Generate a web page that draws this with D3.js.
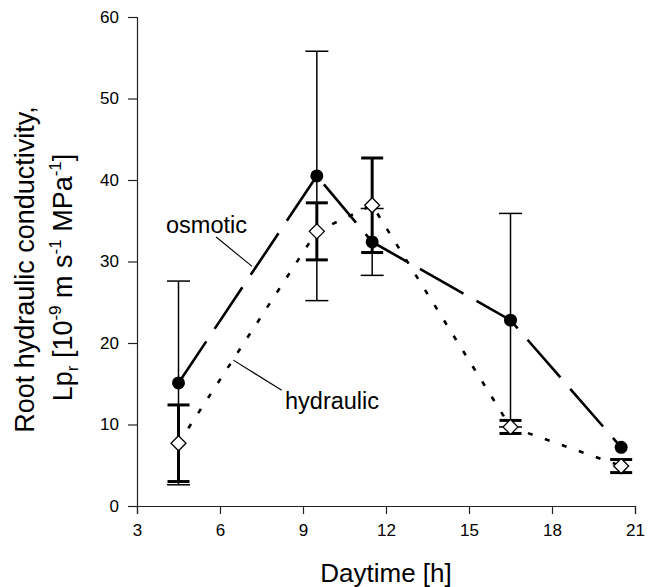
<!DOCTYPE html>
<html>
<head>
<meta charset="utf-8">
<script src="https://cdn.jsdelivr.net/npm/d3@7"></script>
<style>
  body { margin: 0; background: #fff; }
  text { font-family: "Liberation Sans", Arial, sans-serif; fill: #000; }
</style>
</head>
<body>
<script>
// values
var hours = [4.5, 9.5, 11.5, 16.5, 20.5];
var osmotic = [15.1, 40.5, 32.4, 22.8, 7.2];
var osmoticErr = [12.5, 15.3, 4.1, 13.1, 0];
var hydraulic = [7.7, 33.7, 36.9, 9.7, 4.9];
var hydraulicErr = [4.7, 3.5, 5.8, 0.8, 0.8];
var xTicks = [3, 6, 9, 12, 15, 18, 21];
var yTicks = [0, 10, 20, 30, 40, 50, 60];

var width = 653, height = 587;

var svg = d3.select('body').append('svg')
    .attr('width', width).attr('height', height);

var x = d3.scaleLinear().domain([3, 21]).range([137, 635]);
var y = d3.scaleLinear().domain([0, 60]).range([506, 17]);

// axes
svg.append('g')
    .attr('transform', 'translate(0,' + y(0) + ')')
    .call(d3.axisBottom(x).tickValues(xTicks).tickSize(8).tickPadding(10))
    .call(function (g) {
        g.selectAll('text').style('font-size', '17px');
    });

svg.append('g')
    .attr('transform', 'translate(' + x(3) + ',0)')
    .call(d3.axisLeft(y).tickValues(yTicks).tickSize(9).tickPadding(9))
    .call(function (g) {
        g.selectAll('text').style('font-size', '17px');
    });

svg.selectAll('.domain, .tick line').attr('stroke', '#222').attr('stroke-width', 1.2);
svg.selectAll('.tick text').attr('font-family', '"Liberation Sans", Arial, sans-serif');

// axis titles
svg.append('text')
    .attr('x', (x(3) + x(21)) / 2).attr('y', 582)
    .attr('text-anchor', 'middle')
    .style('font-size', '26px')
    .text('Daytime [h]');

var yt = svg.append('g').attr('transform', 'translate(0,' + (y(30) + 8) + ') rotate(-90)');
yt.append('text')
    .attr('x', 0).attr('y', 34)
    .attr('text-anchor', 'middle')
    .style('font-size', '27px')
    .text('Root hydraulic conductivity,');

var l2 = yt.append('text')
    .attr('x', -8).attr('y', 72)
    .attr('text-anchor', 'middle')
    .style('font-size', '27px');
l2.append('tspan').text('Lp');
l2.append('tspan').attr('dy', 6).style('font-size', '17px').text('r');
l2.append('tspan').attr('dy', -6).text(' [10');
l2.append('tspan').attr('dy', -11).style('font-size', '17px').text('-9');
l2.append('tspan').attr('dy', 11).text(' m s');
l2.append('tspan').attr('dy', -11).style('font-size', '17px').text('-1');
l2.append('tspan').attr('dy', 11).text(' MPa');
l2.append('tspan').attr('dy', -11).style('font-size', '17px').text('-1');
l2.append('tspan').attr('dy', 11).text(']');

// error bars
function errorBars(vals, errs, sw, cap) {
    var g = svg.append('g').attr('stroke', '#000').attr('stroke-width', sw);
    hours.forEach(function (h, i) {
        if (!errs[i]) return;
        var lo = vals[i] - errs[i], hi = vals[i] + errs[i];
        g.append('line').attr('x1', x(h)).attr('x2', x(h)).attr('y1', y(lo)).attr('y2', y(hi));
        [lo, hi].forEach(function (v) {
            g.append('line').attr('x1', x(h) - cap).attr('x2', x(h) + cap)
                .attr('y1', y(v)).attr('y2', y(v));
        });
    });
}
errorBars(osmotic, osmoticErr, 1.5, 11.5);
errorBars(hydraulic, hydraulicErr, 3, 11);

// lines
var line = d3.line().x(function (d) { return x(d[0]); }).y(function (d) { return y(d[1]); });

svg.append('path')
    .datum(hours.map(function (h, i) { return [h, osmotic[i]]; }))
    .attr('d', line)
    .attr('fill', 'none').attr('stroke', '#000').attr('stroke-width', 2.6)
    .attr('stroke-dasharray', '50,15');

svg.append('path')
    .datum(hours.map(function (h, i) { return [h, hydraulic[i]]; }))
    .attr('d', line)
    .attr('fill', 'none').attr('stroke', '#000').attr('stroke-width', 2.6)
    .attr('stroke-dasharray', '5,13');

// markers
svg.selectAll('.osm').data(hours).enter().append('circle')
    .attr('cx', function (d) { return x(d); })
    .attr('cy', function (d, i) { return y(osmotic[i]); })
    .attr('r', 6.5).attr('fill', '#000');

svg.selectAll('.hyd').data(hours).enter().append('path')
    .attr('transform', function (d, i) { return 'translate(' + x(d) + ',' + y(hydraulic[i]) + ')'; })
    .attr('d', 'M0,-7.5L7.5,0L0,7.5L-7.5,0Z')
    .attr('fill', '#fff').attr('stroke', '#000').attr('stroke-width', 1.3);

// labels with leader lines (data units)
var notes = [
    { text: 'osmotic', tx: 4.05, ty: 33.5, a: [5.86, 33.0], b: [7.16, 29.4] },
    { text: 'hydraulic', tx: 8.35, ty: 11.9, a: [8.23, 14.2], b: [6.48, 17.9] }
];
notes.forEach(function (n) {
    svg.append('text').attr('x', x(n.tx)).attr('y', y(n.ty))
        .style('font-size', '23.5px').text(n.text);
    svg.append('line')
        .attr('x1', x(n.a[0])).attr('y1', y(n.a[1]))
        .attr('x2', x(n.b[0])).attr('y2', y(n.b[1]))
        .attr('stroke', '#000').attr('stroke-width', 1.1);
});
</script>
</body>
</html>
